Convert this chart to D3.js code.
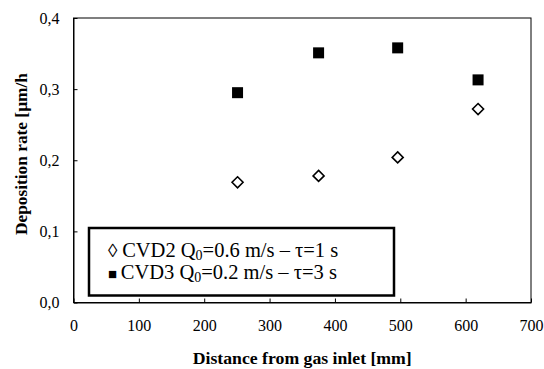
<!DOCTYPE html>
<html>
<head>
<meta charset="utf-8">
<script src="https://cdn.jsdelivr.net/npm/d3@7"></script>
<style>
  html, body { margin: 0; padding: 0; background: #fff; }
  svg text { font-family: "Liberation Serif", "DejaVu Serif", "Times New Roman", Times, serif; }
</style>
</head>
<body>
<svg id="chart" width="544" height="369"></svg>
<script>
// Measurement positions along the reactor [mm]
const distances = [251, 375, 496, 619];
// Deposition rate [µm/h] for each run
const cvd2Rates = [0.169, 0.178, 0.204, 0.272];
const cvd3Rates = [0.295, 0.351, 0.358, 0.313];
const xTicks = [0, 100, 200, 300, 400, 500, 600, 700];
const yTicks = [0, 0.1, 0.2, 0.3, 0.4];

const serif = "'Liberation Serif', 'DejaVu Serif', 'Times New Roman', Times, serif";

const svg = d3.select("#chart");
const plot = { left: 73.5, right: 531, top: 18, bottom: 302.5 };

const x = d3.scaleLinear().domain([0, 700]).range([plot.left, plot.right]);
const y = d3.scaleLinear().domain([0, 0.4]).range([plot.bottom, plot.top]);

// Plot frame
svg.append("rect")
  .attr("x", plot.left).attr("y", plot.top)
  .attr("width", plot.right - plot.left).attr("height", plot.bottom - plot.top)
  .attr("fill", "none").attr("stroke", "#000").attr("stroke-width", 1);

// X axis, ticks pointing inward
const xAxis = svg.append("g")
  .attr("transform", `translate(0,${plot.bottom})`)
  .call(d3.axisBottom(x).tickValues(xTicks).tickSizeInner(-4).tickSizeOuter(0).tickPadding(17)
    .tickFormat(d3.format("d")));
xAxis.attr("font-family", null);
xAxis.select(".domain").attr("stroke", "#000");
xAxis.selectAll("text").attr("fill", "#000")
  .style("font-family", serif).style("font-size", "16px");

// Y axis, comma decimal separator
const yAxis = svg.append("g")
  .attr("transform", `translate(${plot.left},0)`)
  .call(d3.axisLeft(y).tickValues(yTicks).tickSizeInner(-4).tickSizeOuter(0).tickPadding(14)
    .tickFormat(d => d3.format(".1f")(d).replace(".", ",")));
yAxis.attr("font-family", null);
yAxis.select(".domain").attr("stroke", "#000");
yAxis.selectAll("text").attr("fill", "#000")
  .style("font-family", serif).style("font-size", "16px");

// Axis titles
svg.append("text")
  .attr("x", (plot.left + plot.right) / 2).attr("y", 364)
  .attr("text-anchor", "middle")
  .attr("textLength", 219).attr("lengthAdjust", "spacingAndGlyphs")
  .style("font-family", serif).style("font-weight", "bold").style("font-size", "16px")
  .text("Distance from gas inlet [mm]");

svg.append("text")
  .attr("transform", "translate(27,154) rotate(-90)")
  .attr("text-anchor", "middle")
  .attr("textLength", 162).attr("lengthAdjust", "spacingAndGlyphs")
  .style("font-family", serif).style("font-weight", "bold").style("font-size", "17px")
  .text("Deposition rate [µm/h");

// CVD3: filled squares
const sq = 11;
svg.append("g").selectAll("rect")
  .data(distances.map((d, i) => [d, cvd3Rates[i]]))
  .join("rect")
  .attr("x", d => x(d[0]) - sq / 2).attr("y", d => y(d[1]) - sq / 2)
  .attr("width", sq).attr("height", sq)
  .attr("fill", "#000");

// CVD2: open diamonds
const dm = 5.5;
svg.append("g").selectAll("path")
  .data(distances.map((d, i) => [d, cvd2Rates[i]]))
  .join("path")
  .attr("d", d => {
    const cx = x(d[0]), cy = y(d[1]);
    return `M${cx},${cy - dm}L${cx + dm},${cy}L${cx},${cy + dm}L${cx - dm},${cy}Z`;
  })
  .attr("fill", "#fff").attr("stroke", "#000").attr("stroke-width", 1.6);

// Legend
const legend = svg.append("g");
legend.append("rect")
  .attr("x", 89).attr("y", 228).attr("width", 305).attr("height", 67.5)
  .attr("fill", "#fff").attr("stroke", "#000").attr("stroke-width", 2.5);

const legendRows = [
  { sym: "\u25CA", run: "CVD2", q: "0.6", tau: "1" },
  { sym: "\u25A0", run: "CVD3", q: "0.2", tau: "3" }
];
legendRows.forEach((r, i) => {
  const t = legend.append("text")
    .attr("x", 108).attr("y", 256.5 + i * 22)
    .style("font-family", serif).style("font-size", "20.5px").attr("fill", "#000");
  t.append("tspan").style("font-size", i === 0 ? "19px" : "15px").text(r.sym + " ");
  t.append("tspan").text(r.run + " Q");
  t.append("tspan").style("font-size", "14px").attr("dy", 3).text("0");
  t.append("tspan").attr("dy", -3).text(`=${r.q} m/s \u2013 \u03C4=${r.tau} s`);
});
</script>
</body>
</html>
